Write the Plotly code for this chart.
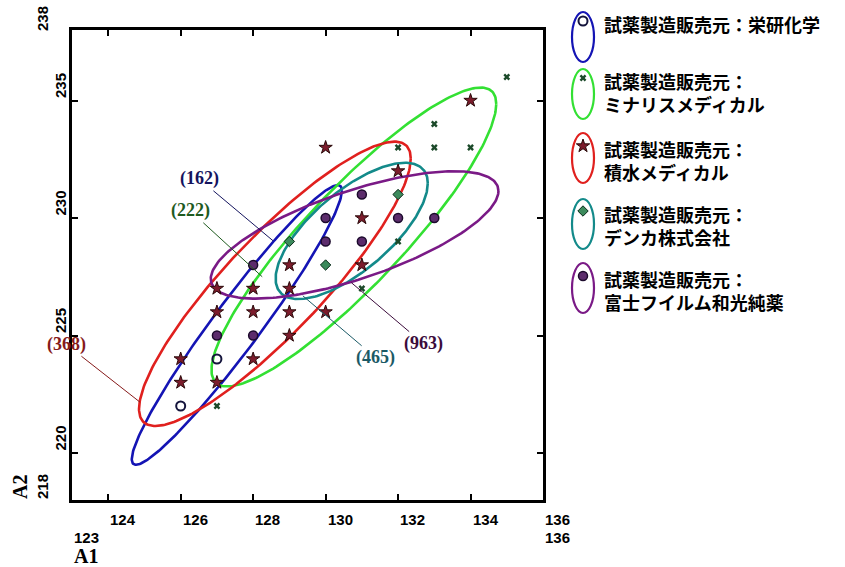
import numpy as np
import plotly.graph_objects as go

# ---- data -------------------------------------------------------------
groups = ["試薬製造販売元：栄研化学",
          "試薬製造販売元：<br>ミナリスメディカル",
          "試薬製造販売元：<br>積水メディカル",
          "試薬製造販売元：<br>デンカ株式会社",
          "試薬製造販売元：<br>富士フイルム和光純薬"]

# observed (A1, A2) pairs for each manufacturer
eiken_a1 = [126, 127]
eiken_a2 = [222, 224]

minaris_a1 = [127, 131, 132, 132, 133, 134, 133, 135]
minaris_a2 = [222, 227, 229, 233, 233, 233, 234, 236]

sekisui_a1 = [126, 126, 127, 127, 127, 128, 128, 128, 129, 129, 129, 129,
              130, 131, 131, 130, 132, 134]
sekisui_a2 = [223, 224, 223, 226, 227, 224, 226, 227, 225, 226, 227, 228,
              226, 228, 230, 233, 232, 235]

denka_a1 = [129, 130, 132]
denka_a2 = [229, 228, 231]

fuji_a1 = [127, 128, 128, 130, 130, 131, 131, 132, 133]
fuji_a2 = [225, 225, 228, 229, 230, 229, 231, 230, 230]

# confidence-ellipse parameters (栄研, ミナリス, 積水, デンカ, 富士):
# centre, half extents and correlation
ell_cx = [127.55, 130.78, 128.60, 130.72, 130.80]
ell_cy = [225.45, 229.19, 227.20, 229.45, 229.28]
ell_hx = [2.90, 3.93, 3.75, 2.10, 3.97]
ell_hy = [5.95, 6.36, 6.05, 2.90, 2.71]
ell_rho = [0.96, 0.89, 0.88, 0.70, 0.69]

# sample counts shown next to the ellipses
count_text = ["(162)", "(222)", "(368)", "(465)", "(963)"]
count_x = [128.55, 128.25, 124.88, 129.37, 130.71]
count_y = [229.03, 227.50, 222.16, 226.69, 227.25]

x_ticks = [124, 126, 128, 130, 132, 134, 136]
y_ticks = [220, 225, 230, 235]
x_min, x_max = 123, 136
y_min, y_max = 218, 238

# ---- styles -----------------------------------------------------------
line_colors = ["#1414b4", "#33e033", "#e0201e", "#138a8a", "#7a1a86"]
label_colors = ["#14145e", "#1e5a1e", "#861a1a", "#1b5a66", "#3c0c3c"]
markers = [
    dict(symbol="circle-open", size=9, color="#14143c", line=dict(width=2, color="#14143c")),
    dict(symbol="x", size=6, color="#1c4a2a", line=dict(width=0)),
    dict(symbol="star", size=10, color="#7c1c2c", line=dict(width=1, color="#2a0a0a")),
    dict(symbol="diamond", size=8, color="#3c8a5c", line=dict(width=1, color="#0a2a1a")),
    dict(symbol="circle", size=9, color="#5c2c6c", line=dict(width=1.5, color="#1c0a2c")),
]
series = [(eiken_a1, eiken_a2), (minaris_a1, minaris_a2), (sekisui_a1, sekisui_a2),
          (denka_a1, denka_a2), (fuji_a1, fuji_a2)]

W, H = 845, 567
plot_l, plot_r, plot_t, plot_b = 72, 543, 30, 500

fig = go.Figure()

t = np.linspace(0, 2 * np.pi, 241)
for i in range(5):
    ex = ell_cx[i] + ell_hx[i] * np.cos(t)
    ey = ell_cy[i] + ell_hy[i] * (ell_rho[i] * np.cos(t)
                                  + np.sqrt(1 - ell_rho[i] ** 2) * np.sin(t))
    fig.add_trace(go.Scatter(x=ex, y=ey, mode="lines", showlegend=False,
                             line=dict(color=line_colors[i], width=2.6),
                             hoverinfo="skip"))

for i, (xs, ys) in enumerate(series):
    fig.add_trace(go.Scatter(x=xs, y=ys, mode="markers", name=groups[i],
                             showlegend=False, marker=markers[i]))

tick_font = dict(family="Liberation Sans, Arial", size=15, color="black")
serif_bold = "Liberation Serif, Times New Roman"
ann = []
# x tick labels, starting at each tick
for v in x_ticks:
    ann.append(dict(x=v, y=y_min, xref="x", yref="y", yanchor="top", xanchor="left",
                    yshift=-9, text="<b>%d</b>" % v,
                    showarrow=False, font=tick_font))
# axis range labels
ann.append(dict(x=x_min, xref="x", y=537, yref="y2", xanchor="left", yanchor="middle",
                text="<b>%d</b>" % x_min, showarrow=False, font=tick_font))
ann.append(dict(x=x_max, xref="x", y=537, yref="y2", xanchor="left", yanchor="middle",
                text="<b>%d</b>" % x_max, showarrow=False, font=tick_font))
ann.append(dict(x=86, xref="x2", y=556, yref="y2", xanchor="center", yanchor="middle",
                text="<b>A1</b>", showarrow=False,
                font=dict(family=serif_bold, size=20, color="black")))
# y tick labels, rotated and starting at each tick
for v in y_ticks:
    ann.append(dict(x=60, xref="x2", y=v, yref="y", xanchor="center", yanchor="bottom",
                    textangle=-90, text="<b>%d</b>" % v, showarrow=False, font=tick_font))
ann.append(dict(x=42, xref="x2", y=19, yref="y2", xanchor="center", yanchor="middle",
                textangle=-90, text="<b>%d</b>" % y_max, showarrow=False,
                font=tick_font))
ann.append(dict(x=42, xref="x2", y=487, yref="y2", xanchor="center", yanchor="middle",
                textangle=-90, text="<b>%d</b>" % y_min, showarrow=False,
                font=tick_font))
ann.append(dict(x=20, xref="x2", y=487, yref="y2", xanchor="center", yanchor="middle",
                textangle=-90, text="<b>A2</b>", showarrow=False,
                font=dict(family=serif_bold, size=20, color="black")))

# sample-count call-outs
offsets = [(-74, -62), (-72, -66), (-74, -58), (73, 62), (72, 61)]
for i in range(5):
    ann.append(dict(x=count_x[i], y=count_y[i], xref="x", yref="y",
                    ax=offsets[i][0], ay=offsets[i][1], text="<b>%s</b>" % count_text[i],
                    showarrow=True, arrowhead=0, arrowwidth=1,
                    arrowcolor=label_colors[i], standoff=0, startstandoff=0,
                    font=dict(family=serif_bold, size=18, color=label_colors[i])))

# legend block drawn on a pixel-space overlay
leg_icon_cy = [37, 94, 158, 224, 288]
leg_text_y = [20, 77, 145, 210, 275]
shapes = []
for i in range(5):
    shapes.append(dict(type="circle", xref="x2", yref="y2",
                       x0=572, x1=594, y0=leg_icon_cy[i] - 25, y1=leg_icon_cy[i] + 25,
                       line=dict(color=line_colors[i], width=2.2)))
    fig.add_trace(go.Scatter(x=[583], y=[leg_text_y[i] + 1], xaxis="x2", yaxis="y2",
                             mode="markers", marker=markers[i], showlegend=False,
                             hoverinfo="skip"))
    ann.append(dict(x=602, xref="x2", y=leg_text_y[i] - 11, yref="y2",
                    xanchor="left", yanchor="top", align="left",
                    text="<b>%s</b>" % groups[i], showarrow=False,
                    font=dict(family="Noto Sans CJK JP", size=18, color="black")))

axis_common = dict(showgrid=False, zeroline=False, showline=True, linewidth=3,
                   linecolor="black", mirror="ticks", ticks="inside", ticklen=6,
                   tickwidth=2, tickcolor="black", showticklabels=False)

fig.update_layout(
    width=W, height=H, margin=dict(l=0, r=0, t=0, b=0),
    paper_bgcolor="white", plot_bgcolor="rgba(0,0,0,0)", showlegend=False,
    xaxis=dict(domain=[plot_l / W, plot_r / W], range=[x_min, x_max],
               tickvals=x_ticks[:-1], **axis_common),
    yaxis=dict(domain=[1 - plot_b / H, 1 - plot_t / H], range=[y_min, y_max],
               tickvals=y_ticks, **axis_common),
    xaxis2=dict(domain=[0, 1], range=[0, W], visible=False, anchor="y2"),
    yaxis2=dict(domain=[0, 1], range=[H, 0], visible=False, anchor="x2"),
    annotations=ann, shapes=shapes,
)

fig.write_html("out.html")
